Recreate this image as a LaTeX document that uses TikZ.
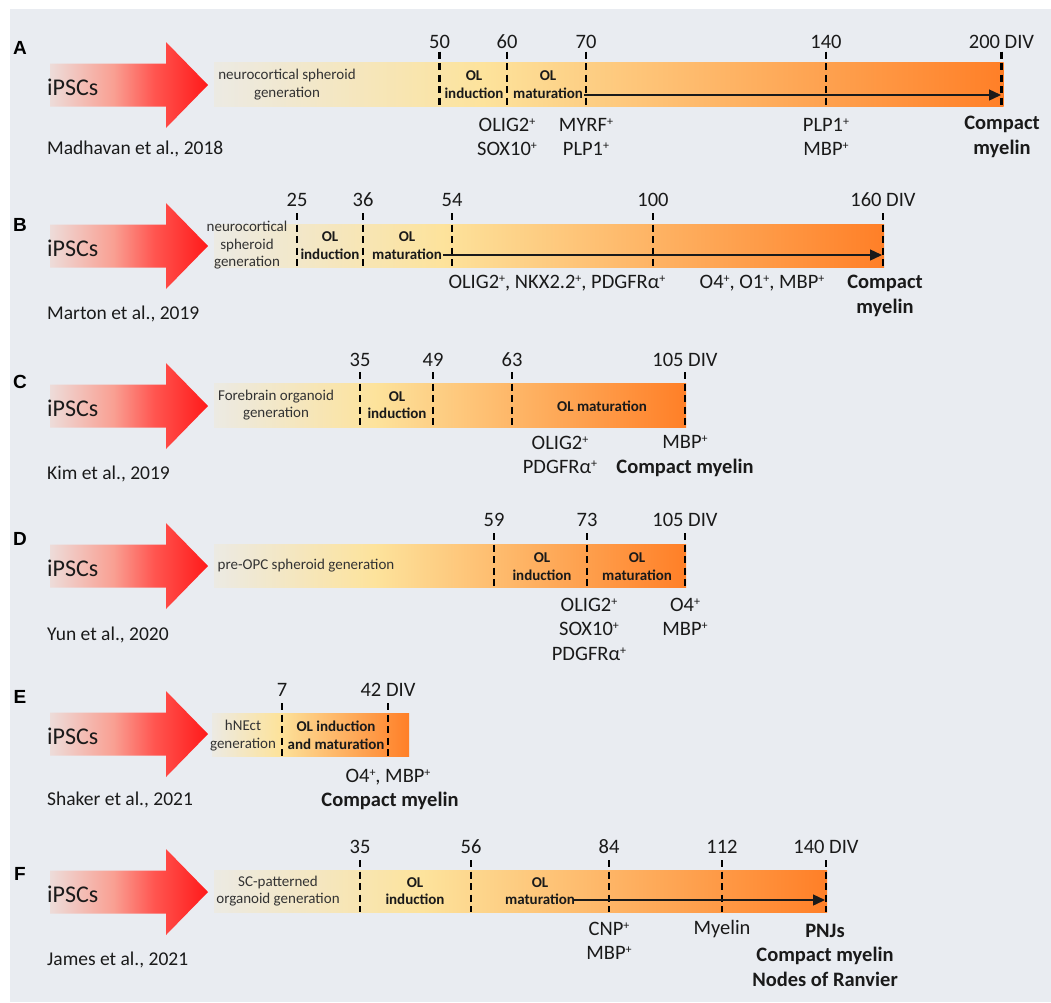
\documentclass[tikz,border=0pt]{standalone}
\usepackage{fontspec}
\setmainfont{Carlito}
\newfontfamily\arialfont{Liberation Sans}
\usetikzlibrary{arrows.meta}
\definecolor{bg}{HTML}{E9ECF1}
\definecolor{ink}{HTML}{1A1A1A}
\definecolor{stageink}{HTML}{333333}
\definecolor{barL}{HTML}{ECEAE3}
\definecolor{barM}{HTML}{FDE39C}
\definecolor{barR}{HTML}{FF7F27}
\definecolor{redL}{HTML}{EDDCD9}
\definecolor{redM}{HTML}{F9A093}
\definecolor{redN}{HTML}{FF5550}
\definecolor{redR}{HTML}{FF1A1A}
\pgfdeclarehorizontalshading{timeline}{100bp}{color(0bp)=(barL); color(25bp)=(barL); color(42bp)=(barM); color(75bp)=(barR); color(100bp)=(barR)}
\pgfdeclarehorizontalshading{redarrow}{100bp}{color(0bp)=(redL); color(25bp)=(redL); color(45bp)=(redM); color(58bp)=(redN); color(75bp)=(redR); color(100bp)=(redR)}
\newcommand{\plusmark}{\raisebox{0.62ex}{\fontsize{12}{12}\selectfont+}}
\tikzset{
  panel/.style={font=\arialfont\bfseries\fontsize{19}{22}\selectfont, text=black, inner sep=0pt},
  cell/.style={font=\fontsize{24}{28}\selectfont, text=ink, anchor=west, inner sep=0pt},
  cite/.style={font=\fontsize{19.5}{23}\selectfont, text=ink, anchor=west, inner sep=0pt},
  day/.style={font=\fontsize{20.5}{24}\selectfont, text=ink, inner sep=0pt},
  marker/.style={font=\fontsize{20.5}{24.5}\selectfont, text=ink, align=center, inner sep=0pt},
  markerB/.style={marker, font=\bfseries\fontsize{20.5}{24.5}\selectfont},
  stage/.style={font=\fontsize{15}{17.5}\selectfont, text=stageink, align=center, inner sep=0pt},
  stageB/.style={stage, font=\bfseries\fontsize{15}{17.5}\selectfont, text=ink},
  bar/.style={shading=timeline},
  tick/.style={draw=black, line width=2.2pt, dash pattern=on 7pt off 4.5pt},
  prog/.style={draw=ink, line width=1.3pt, -{Triangle[length=12pt,width=11pt]}},
  ipsc/.pic={\shade[shading=redarrow] (-158,-21.5) -- (-42,-21.5) -- (-42,-43) -- (0,0) -- (-42,43) -- (-42,21.5) -- (-158,21.5) -- cycle;}
}

\begin{document}
\begin{tikzpicture}[x=1pt, y=-1pt]
\useasboundingbox (0,0) rectangle (1051,1002);
\fill[bg] (10,9) rectangle (1051,1002);

% A: Madhavan
\shade[bar] (214,62.5) rectangle (1003.5,106.5);
\pic at (208,85) {ipsc};
\foreach \x/\d [count=\i] in {439.5/50, 507/60, 586/70, 826/140}{
  \draw[tick] (\x,51.5) -- (\x,106.5);
  \node[day] (dayA\i) at (\x,41.5) {\d};
}
\draw[tick] (1001.5,51.5) -- (1001.5,106.5);
\node[day] (divA) at (1001.5,41.5) {200 DIV};
\node[panel] (labA) at (20,48) {A};
\node[cell] (cellA) at (47,87) {iPSCs};
\node[cite] (citeA) at (47,149) {Madhavan et al., 2018};
\node[stage] (genA) at (287,84.5) {neurocortical spheroid\\generation};
\node[stageB] (indA) at (474,84.5) {OL\\induction};
\node[stageB] (matA) at (548,84.5) {OL\\maturation};
\coordinate (goA) at (584,95);
\coordinate (endA) at (1001,95);
\draw[prog] (goA) -- (endA);
\node[marker] (mkA1) at (507,137) {OLIG2\plusmark\\SOX10\plusmark};
\node[marker] (mkA2) at (586,137) {MYRF\plusmark\\PLP1\plusmark};
\node[marker] (mkA3) at (826,137) {PLP1\plusmark\\MBP\plusmark};
\node[markerB] (mkA4) at (1002,137) {Compact\\myelin};

% B: Marton
\shade[bar] (214,224) rectangle (884,267);
\pic at (208,246) {ipsc};
\foreach \x/\d [count=\i] in {297/25, 363/36, 452/54, 653/100}{
  \draw[tick] (\x,213) -- (\x,267);
  \node[day] (dayB\i) at (\x,200) {\d};
}
\draw[tick] (883,213) -- (883,267);
\node[day] (divB) at (883,200) {160 DIV};
\node[panel] (labB) at (20,225) {B};
\node[cell] (cellB) at (47,248) {iPSCs};
\node[cite] (citeB) at (47,314) {Marton et al., 2019};
\node[stage] (genB) at (247,245.5) {neurocortical\\spheroid\\generation};
\node[stageB] (indB) at (330,245.5) {OL\\induction};
\node[stageB] (matB) at (407,245.5) {OL\\maturation};
\coordinate (goB) at (443,255);
\coordinate (endB) at (882,255);
\draw[prog] (goB) -- (endB);
\node[marker] (mkB1) at (557,283) {OLIG2\plusmark, NKX2.2\plusmark, PDGFRα\plusmark};
\node[marker] (mkB2) at (762,283) {O4\plusmark, O1\plusmark, MBP\plusmark};
\node[markerB] (mkB3) at (885,296) {Compact\\myelin};

% C: Kim
\shade[bar] (214,383) rectangle (686,427);
\pic at (208,406) {ipsc};
\foreach \x/\d [count=\i] in {360/35, 433/49, 512/63}{
  \draw[tick] (\x,372) -- (\x,427);
  \node[day] (dayC\i) at (\x,360) {\d};
}
\draw[tick] (685,372) -- (685,427);
\node[day] (divC) at (685,360) {105 DIV};
\node[panel] (labC) at (20,382) {C};
\node[cell] (cellC) at (47,408) {iPSCs};
\node[cite] (citeC) at (47,474) {Kim et al., 2019};
\node[stage] (genC) at (276,405) {Forebrain organoid\\generation};
\node[stageB] (indC) at (397,405) {OL\\induction};
\node[stageB] (matC) at (602,406) {OL maturation};
\node[marker] (mkC1) at (560,455) {OLIG2\plusmark\\PDGFRα\plusmark};
\node[marker] (mkC2) at (685,442) {MBP\plusmark};
\node[markerB] (mkC3) at (685,468) {Compact myelin};

% D: Yun
\shade[bar] (214,544) rectangle (686,587);
\pic at (208,566) {ipsc};
\foreach \x/\d [count=\i] in {494/59, 587/73}{
  \draw[tick] (\x,533) -- (\x,587);
  \node[day] (dayD\i) at (\x,520) {\d};
}
\draw[tick] (685,533) -- (685,587);
\node[day] (divD) at (685,520) {105 DIV};
\node[panel] (labD) at (20,539) {D};
\node[cell] (cellD) at (47,568) {iPSCs};
\node[cite] (citeD) at (47,635) {Yun et al., 2020};
\node[stage] (genD) at (306,566) {pre-OPC spheroid generation};
\node[stageB] (indD) at (542,566.5) {OL\\induction};
\node[stageB] (matD) at (637,566.5) {OL\\maturation};
\node[marker] (mkD1) at (589,629) {OLIG2\plusmark\\SOX10\plusmark\\PDGFRα\plusmark};
\node[marker] (mkD2) at (685,617) {O4\plusmark\\MBP\plusmark};

% E: Shaker
\shade[bar] (212,713) rectangle (409,756);
\pic at (208,734) {ipsc};
\draw[tick] (282,703) -- (282,756);
\node[day] (dayE1) at (282,690) {7};
\draw[tick] (388,703) -- (388,756);
\node[day] (divE) at (388,690) {42 DIV};
\node[panel] (labE) at (20,697) {E};
\node[cell] (cellE) at (47,736) {iPSCs};
\node[cite] (citeE) at (47,800) {Shaker et al., 2021};
\node[stage] (genE) at (243,735.5) {hNEct\\generation};
\node[stageB] (indE) at (336,735.5) {OL induction\\and maturation};
\node[marker] (mkE1) at (388,777.5) {O4\plusmark, MBP\plusmark};
\node[markerB] (mkE2) at (390,801) {Compact myelin};

% F: James
\shade[bar] (214,870) rectangle (827,912);
\pic at (208,892) {ipsc};
\foreach \x/\d [count=\i] in {360/35, 471/56, 609/84, 722/112}{
  \draw[tick] (\x,860) -- (\x,912);
  \node[day] (dayF\i) at (\x,847) {\d};
}
\draw[tick] (826,860) -- (826,912);
\node[day] (divF) at (826,847) {140 DIV};
\node[panel] (labF) at (20,874) {F};
\node[cell] (cellF) at (47,894) {iPSCs};
\node[cite] (citeF) at (47,960) {James et al., 2021};
\node[stage] (genF) at (278,891) {SC-patterned\\organoid generation};
\node[stageB] (indF) at (415,891) {OL\\induction};
\node[stageB] (matF) at (540,891) {OL\\maturation};
\coordinate (goF) at (573,900);
\coordinate (endF) at (825,900);
\draw[prog] (goF) -- (endF);
\node[marker] (mkF1) at (609,941) {CNP\plusmark\\MBP\plusmark};
\node[marker] (mkF2) at (722,929) {Myelin};
\node[markerB] (mkF3) at (825,955) {PNJs\\Compact myelin\\Nodes of Ranvier};
\end{tikzpicture}
\end{document}
